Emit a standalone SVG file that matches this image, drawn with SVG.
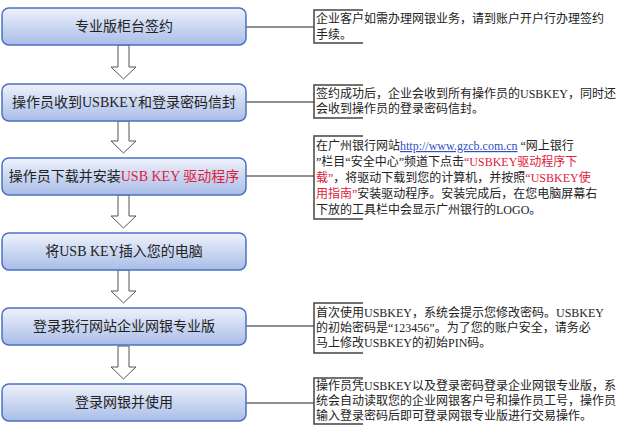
<svg xmlns="http://www.w3.org/2000/svg" width="629" height="433" viewBox="0 0 629 433">
<defs>
<linearGradient id="g" x1="0" y1="0" x2="0" y2="1"><stop offset="0" stop-color="#eef2fb"/><stop offset="1" stop-color="#a9bde8"/></linearGradient>
<style>
.box{fill:url(#g);stroke:#4a72c0;stroke-width:1.5}
.bt{font-family:"Liberation Serif","Noto Sans CJK SC",serif;font-size:14px;fill:#222;text-anchor:middle}
.ct{font-family:"Liberation Serif","Noto Sans CJK SC",serif;font-size:12px;fill:#222}
.red{fill:#e0203a}
.lnk{fill:#3050c0;text-decoration:underline}
.br{fill:none;stroke:#444;stroke-width:1.5}
.cn{stroke:#222;stroke-width:1.2}
.ar{fill:#fff;stroke:#555;stroke-width:1}
</style>
</defs>
<g id="connectors">
<line class="cn" x1="246" y1="27" x2="314" y2="27"/>
<line class="cn" x1="246" y1="102" x2="314" y2="102"/>
<line class="cn" x1="246" y1="176" x2="314" y2="176"/>
<line class="cn" x1="246" y1="326" x2="314" y2="326"/>
<line class="cn" x1="246" y1="403" x2="314" y2="403"/>
<path class="ar" d="M118,45 H129 V67 H136 L123.5,79 L111,67 H118 Z"/>
<path class="ar" d="M118,121 H129 V141 H136 L123.5,153 L111,141 H118 Z"/>
<path class="ar" d="M118,195 H129 V216 H136 L123.5,228 L111,216 H118 Z"/>
<path class="ar" d="M118,270 H129 V291 H136 L123.5,303 L111,291 H118 Z"/>
<path class="ar" d="M118,346 H129 V367 H136 L123.5,379 L111,367 H118 Z"/>
</g>
<g id="n1"><rect class="box" x="2" y="8" width="244" height="37" rx="7"/><text class="bt" x="124" y="31">专业版柜台签约</text></g>
<g id="n2"><rect class="box" x="2" y="84" width="244" height="37" rx="7"/><text class="bt" x="124" y="107">操作员收到USBKEY和登录密码信封</text></g>
<g id="n3"><rect class="box" x="2" y="158" width="244" height="37" rx="7"/><text class="bt" x="124" y="181">操作员下载并安装<tspan class="red">USB KEY 驱动程序</tspan></text></g>
<g id="n4"><rect class="box" x="2" y="233" width="244" height="37" rx="7"/><text class="bt" x="124" y="256">将USB KEY插入您的电脑</text></g>
<g id="n5"><rect class="box" x="2" y="308" width="244" height="37" rx="7"/><text class="bt" x="124" y="331">登录我行网站企业网银专业版</text></g>
<g id="n6"><rect class="box" x="2" y="384" width="244" height="37" rx="7"/><text class="bt" x="124" y="407">登录网银并使用</text></g>
<g id="c1"><path class="br" d="M363,10 H314 V43 H363"/>
<text class="ct" x="316" y="23">企业客户如需办理网银业务，请到账户开户行办理签约</text>
<text class="ct" x="316" y="39">手续。</text></g>
<g id="c2"><path class="br" d="M363,85 H314 V118 H363"/>
<text class="ct" x="316" y="98">签约成功后，企业会收到所有操作员的USBKEY，同时还</text>
<text class="ct" x="316" y="113">会收到操作员的登录密码信封。</text></g>
<g id="c3"><path class="br" d="M363,136 H314 V219 H363"/>
<text class="ct" x="316" y="150">在广州银行网站<tspan class="lnk">http://www.gzcb.com.cn</tspan> “网上银行</text>
<text class="ct" x="316" y="166">”栏目“安全中心”频道下点击<tspan class="red">“USBKEY驱动程序下</tspan></text>
<text class="ct" x="316" y="182"><tspan class="red">载”</tspan>，将驱动下载到您的计算机，并按照<tspan class="red">“USBKEY使</tspan></text>
<text class="ct" x="316" y="198"><tspan class="red">用指南”</tspan>安装驱动程序。安装完成后，在您电脑屏幕右</text>
<text class="ct" x="316" y="214">下放的工具栏中会显示广州银行的LOGO。</text></g>
<g id="c4"><path class="br" d="M363,303 H314 V353 H363"/>
<text class="ct" x="316" y="317">首次使用USBKEY，系统会提示您修改密码。USBKEY</text>
<text class="ct" x="316" y="332">的初始密码是“123456”。为了您的账户安全，请务必</text>
<text class="ct" x="316" y="347">马上修改USBKEY的初始PIN码。</text></g>
<g id="c5"><path class="br" d="M363,378 H314 V424 H363"/>
<text class="ct" x="316" y="390">操作员凭USBKEY以及登录密码登录企业网银专业版，系</text>
<text class="ct" x="316" y="405">统会自动读取您的企业网银客户号和操作员工号，操作员</text>
<text class="ct" x="316" y="420">输入登录密码后即可登录网银专业版进行交易操作。</text></g>
</svg>
